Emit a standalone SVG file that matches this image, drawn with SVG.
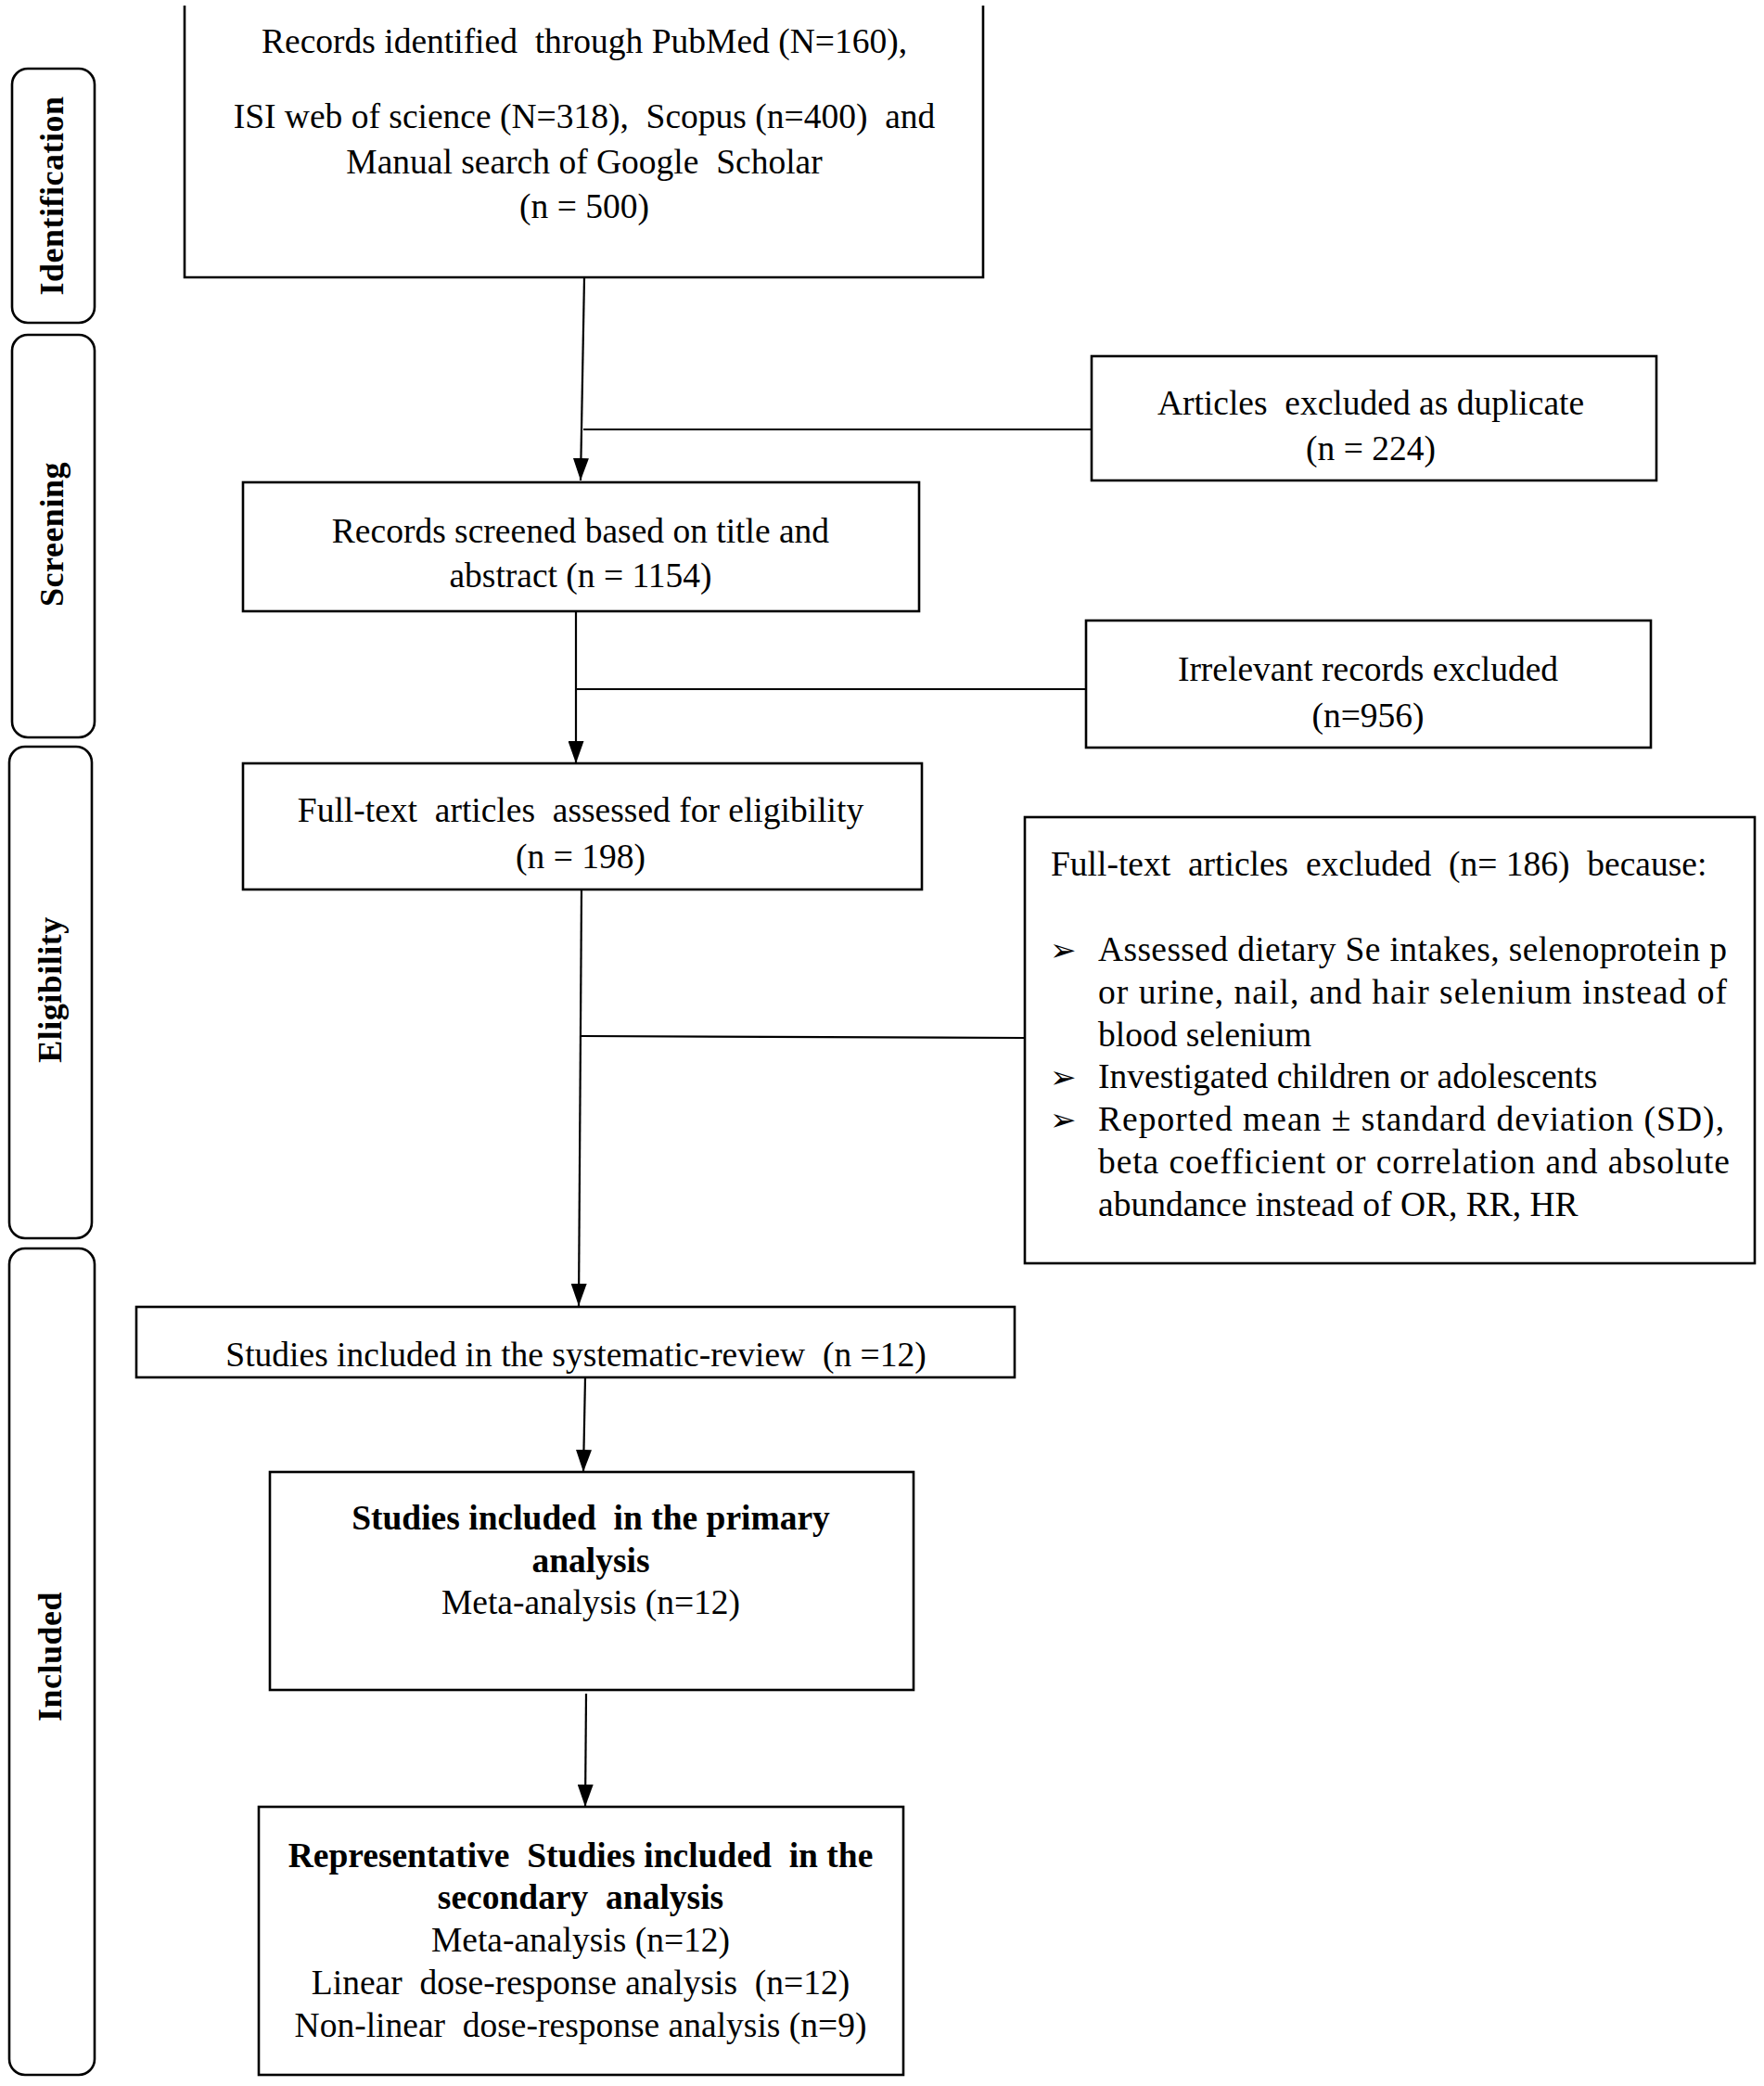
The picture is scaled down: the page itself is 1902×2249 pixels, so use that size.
<svg xmlns="http://www.w3.org/2000/svg" width="1902" height="2249" viewBox="0 0 1902 2249">
<style>
.box{fill:#fff;stroke:#000;stroke-width:2.6}
.stage{fill:#fff;stroke:#000;stroke-width:2.6}
.t{font-family:"Liberation Serif","Times New Roman",serif;font-size:37.5px;fill:#000;white-space:pre}
.c{text-anchor:middle}
.b{font-weight:bold}
.lab{font-family:"Liberation Serif","Times New Roman",serif;font-size:36px;font-weight:bold;text-anchor:middle;dominant-baseline:central;letter-spacing:0.5px}
.bul{font-family:"DejaVu Sans",sans-serif;font-size:34px;fill:#000}
.ln{stroke:#000;stroke-width:2.2;fill:none}
</style>
<defs>
<marker id="arr" markerWidth="24" markerHeight="17" refX="24" refY="8.5" orient="auto" markerUnits="userSpaceOnUse" viewBox="0 0 24 17">
<path d="M0,0 L24,8.5 L0,17 Z" fill="#000"/>
</marker>
</defs>
<rect width="1902" height="2249" fill="#fff"/>

<g id="stage-identification">
<rect class="stage" x="13" y="74" width="89" height="274" rx="17"/>
<text class="lab" transform="translate(56,211) rotate(-90)">Identification</text>
</g>
<g id="stage-screening">
<rect class="stage" x="13" y="361" width="89" height="434" rx="17"/>
<text class="lab" transform="translate(56,576) rotate(-90)">Screening</text>
</g>
<g id="stage-eligibility">
<rect class="stage" x="10" y="805" width="89" height="530" rx="17"/>
<text class="lab" transform="translate(54,1067) rotate(-90)">Eligibility</text>
</g>
<g id="stage-included">
<rect class="stage" x="10" y="1346" width="92" height="891" rx="17"/>
<text class="lab" transform="translate(54,1786) rotate(-90)">Included</text>
</g>

<g id="connectors">
<line class="ln" x1="630" y1="299" x2="626" y2="518" marker-end="url(#arr)"/>
<line class="ln" x1="629" y1="463" x2="1177" y2="463"/>
<line class="ln" x1="621" y1="659" x2="621" y2="823" marker-end="url(#arr)"/>
<line class="ln" x1="621" y1="743" x2="1171" y2="743"/>
<line class="ln" x1="627" y1="959" x2="624" y2="1408" marker-end="url(#arr)"/>
<line class="ln" x1="626" y1="1117" x2="1105" y2="1119" stroke="#444"/>
<line class="ln" x1="631" y1="1485" x2="629" y2="1587" marker-end="url(#arr)"/>
<line class="ln" x1="632" y1="1826" x2="631" y2="1948" marker-end="url(#arr)"/>
</g>

<g id="node-identified">
<path class="box" d="M199,6 V299 H1060 V6"/>
<text class="t c" x="630" y="57">Records identified  through PubMed (N=160),</text>
<text class="t c" x="630" y="138">ISI web of science (N=318),  Scopus (n=400)  and</text>
<text class="t c" x="630" y="187">Manual search of Google  Scholar</text>
<text class="t c" x="630" y="235">(n = 500)</text>
</g>

<g id="node-duplicates">
<rect class="box" x="1177" y="384" width="609" height="134"/>
<text class="t c" x="1478" y="447">Articles  excluded as duplicate</text>
<text class="t c" x="1478" y="496">(n = 224)</text>
</g>

<g id="node-screened">
<rect class="box" x="262" y="520" width="729" height="139"/>
<text class="t c" x="626" y="585">Records screened based on title and</text>
<text class="t c" x="626" y="633">abstract (n = 1154)</text>
</g>

<g id="node-irrelevant">
<rect class="box" x="1171" y="669" width="609" height="137"/>
<text class="t c" x="1475" y="734">Irrelevant records excluded</text>
<text class="t c" x="1475" y="784">(n=956)</text>
</g>

<g id="node-fulltext">
<rect class="box" x="262" y="823" width="732" height="136"/>
<text class="t c" x="626" y="886">Full-text  articles  assessed for eligibility</text>
<text class="t c" x="626" y="936">(n = 198)</text>
</g>

<g id="node-excluded">
<rect class="box" x="1105" y="881" width="787" height="481"/>
<text class="t" x="1133" y="944">Full-text  articles  excluded  (n= 186)  because:</text>
<text class="bul" x="1132" y="1036">➢</text>
<text class="t" x="1184" y="1036" textLength="678" lengthAdjust="spacing">Assessed dietary Se intakes, selenoprotein p</text>
<text class="t" x="1184" y="1082" textLength="678" lengthAdjust="spacing">or urine, nail, and hair selenium instead of</text>
<text class="t" x="1184" y="1128">blood selenium</text>
<text class="bul" x="1132" y="1173">➢</text>
<text class="t" x="1184" y="1173">Investigated children or adolescents</text>
<text class="bul" x="1132" y="1219">➢</text>
<text class="t" x="1184" y="1219" textLength="675" lengthAdjust="spacing">Reported mean ± standard deviation (SD),</text>
<text class="t" x="1184" y="1265" textLength="681" lengthAdjust="spacing">beta coefficient or correlation and absolute</text>
<text class="t" x="1184" y="1311">abundance instead of OR, RR, HR</text>
</g>

<g id="node-systematic">
<rect class="box" x="147" y="1409" width="947" height="76"/>
<text class="t c" x="621" y="1473">Studies included in the systematic-review  (n =12)</text>
</g>

<g id="node-primary">
<rect class="box" x="291" y="1587" width="694" height="235"/>
<text class="t c b" x="637" y="1649">Studies included  in the primary</text>
<text class="t c b" x="637" y="1695">analysis</text>
<text class="t c" x="637" y="1740">Meta-analysis (n=12)</text>
</g>

<g id="node-secondary">
<rect class="box" x="279" y="1948" width="695" height="289"/>
<text class="t c b" x="626" y="2013">Representative  Studies included  in the</text>
<text class="t c b" x="626" y="2058">secondary  analysis</text>
<text class="t c" x="626" y="2104">Meta-analysis (n=12)</text>
<text class="t c" x="626" y="2150">Linear  dose-response analysis  (n=12)</text>
<text class="t c" x="626" y="2196">Non-linear  dose-response analysis (n=9)</text>
</g>
</svg>
